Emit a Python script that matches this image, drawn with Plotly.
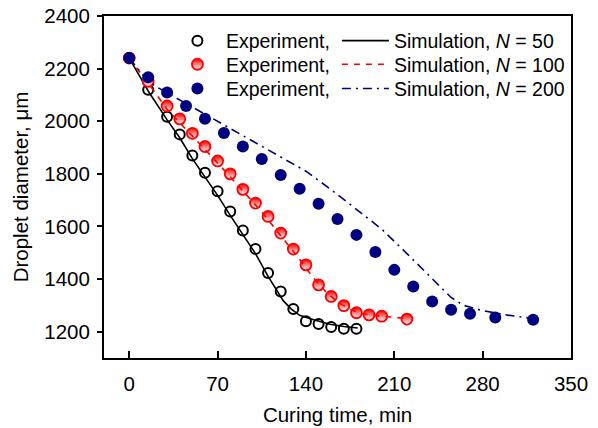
import plotly.graph_objects as go

# Experimental data
t_exp50 = [0, 15, 30, 40, 50, 60, 70, 80, 90, 100, 110, 120, 130, 140, 150, 160, 170, 180]
d_exp50 = [2240, 2120, 2017, 1950, 1870, 1804, 1734, 1657, 1585, 1514, 1423, 1353, 1286, 1240, 1229, 1218, 1211, 1211]

t_exp100 = [0, 15, 30, 40, 50, 60, 70, 80, 90, 100, 110, 120, 130, 140, 150, 160, 170, 180, 190, 200, 220]
d_exp100 = [2240, 2152, 2058, 2009, 1954, 1904, 1849, 1800, 1741, 1689, 1638, 1575, 1514, 1454, 1378, 1334, 1299, 1272, 1264, 1259, 1248]

t_exp200 = [0, 15, 30, 45, 60, 75, 90, 105, 120, 135, 150, 165, 180, 195, 210, 225, 240, 255, 270, 290, 320]
d_exp200 = [2240, 2167, 2109, 2058, 2009, 1955, 1904, 1856, 1796, 1743, 1686, 1628, 1568, 1503, 1435, 1372, 1315, 1283, 1268, 1254, 1245]

# Simulation curves
t_sim50 = [0, 15, 30, 40, 50, 60, 70, 80, 90, 100, 110, 116, 122, 128, 135, 146, 159, 170, 181]
d_sim50 = [2240, 2115, 2005, 1937, 1858, 1790, 1718, 1642, 1570, 1497, 1410, 1365, 1318, 1288, 1262, 1245, 1228, 1220, 1214]

t_sim100 = [0, 15, 30, 45, 60, 75, 90, 105, 120, 135, 145, 155, 165, 175, 185, 200, 220]
d_sim100 = [2240, 2145, 2045, 1970, 1893, 1815, 1735, 1655, 1565, 1475, 1410, 1355, 1313, 1285, 1268, 1259, 1250]

t_sim200 = [0, 10, 20, 40, 60, 80, 100, 120, 140, 160, 180, 200, 220, 240, 255, 265, 280, 300, 320]
d_sim200 = [2240, 2180, 2135, 2081, 2027, 1973, 1919, 1865, 1810, 1740, 1665, 1590, 1497, 1400, 1330, 1300, 1280, 1263, 1250]

x_ticks = [0, 70, 140, 210, 280, 350]
y_ticks = [1200, 1400, 1600, 1800, 2000, 2200, 2400]

RED = "#ff0000"
NAVY = "#000080"
FONT = "Liberation Sans, Arial, sans-serif"
EXP_W = 106
SIM_W = 168

fig = go.Figure()

# row 1: N = 50
fig.add_trace(go.Scatter(x=t_exp50, y=d_exp50, mode="markers",
                         marker=dict(symbol="circle-open", size=10, color="black", line=dict(width=2)),
                         name="Experiment,", legend="legend", legendwidth=EXP_W))
fig.add_trace(go.Scatter(x=t_sim50, y=d_sim50, mode="lines", line=dict(color="black", width=1.6),
                         name="Simulation, <i>N</i> = 50", legend="legend", legendwidth=SIM_W))
# row 2: N = 100
fig.add_trace(go.Scatter(x=t_exp100, y=d_exp100, mode="markers",
                         marker=dict(symbol="circle", size=11, color=RED, line=dict(width=1.8, color=RED),
                                     gradient=dict(type="vertical", color="white")),
                         name="Experiment,", legend="legend2", legendwidth=EXP_W))
fig.add_trace(go.Scatter(x=t_sim100, y=d_sim100, mode="lines", line=dict(color=RED, width=1.6, dash="6px,6px"),
                         name="Simulation, <i>N</i> = 100", legend="legend2", legendwidth=SIM_W))
# row 3: N = 200
fig.add_trace(go.Scatter(x=t_exp200, y=d_exp200, mode="markers",
                         marker=dict(symbol="circle", size=12, color=NAVY, line=dict(width=0)),
                         name="Experiment,", legend="legend3", legendwidth=EXP_W))
fig.add_trace(go.Scatter(x=t_sim200, y=d_sim200, mode="lines", line=dict(color=NAVY, width=1.6, dash="9px,5px,2px,5px"),
                         name="Simulation, <i>N</i> = 200", legend="legend3", legendwidth=SIM_W))

legend_common = dict(font=dict(family=FONT, size=19.5, color="black"), bgcolor="rgba(0,0,0,0)",
                     borderwidth=0, yanchor="middle", xanchor="left", x=0.139,
                     xref="paper", yref="paper", orientation="h", itemwidth=47,
                     traceorder="normal")

fig.update_layout(
    width=598, height=428,
    margin=dict(l=104, r=27, t=16, b=70),
    paper_bgcolor="white", plot_bgcolor="white",
    font=dict(family=FONT, size=20.5, color="black"),
    showlegend=True,
    legend=dict(y=0.927, **legend_common),
    legend2=dict(y=0.858, **legend_common),
    legend3=dict(y=0.787, **legend_common),
    xaxis=dict(range=[-20, 350], tickvals=x_ticks, ticks="inside", ticklen=7, tickwidth=1.5,
               tickcolor="black", showline=True, linewidth=2, linecolor="black", mirror=True,
               showgrid=False, zeroline=False, ticklabelstandoff=6, automargin=False,
               title=dict(text="Curing time, min", standoff=14, font=dict(size=20.5))),
    yaxis=dict(range=[1100, 2400], tickvals=y_ticks, ticks="outside", ticklen=5, tickwidth=1.5,
               tickcolor="black", showline=True, linewidth=2, linecolor="black", mirror=True,
               showgrid=False, zeroline=False, ticklabelstandoff=3, automargin=False,
               title=dict(text="Droplet diameter, μm", standoff=10, font=dict(size=20.5))),
)

fig.write_html("out.html", config={"displayModeBar": False},
               post_script="document.body.style.margin='0';document.body.style.overflow='hidden';")
